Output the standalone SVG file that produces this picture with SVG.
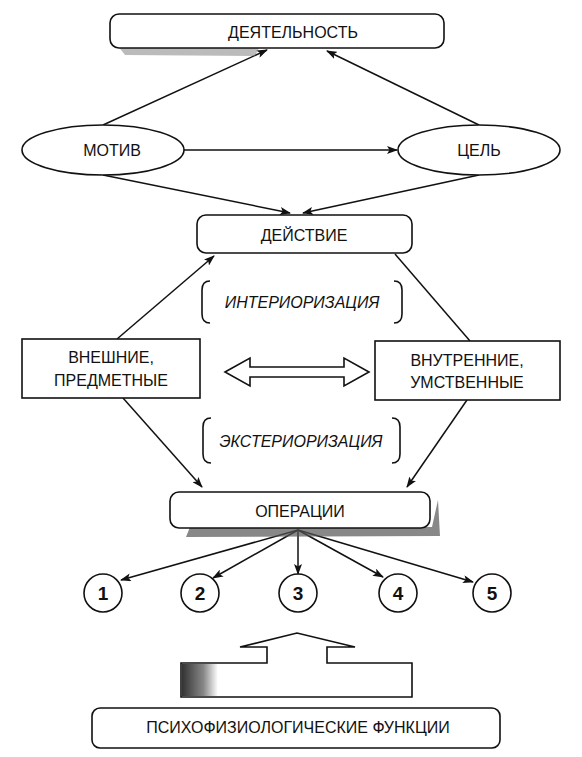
<svg xmlns="http://www.w3.org/2000/svg" width="582" height="757" viewBox="0 0 582 757">
<defs>
<marker id="ah" markerWidth="11" markerHeight="8" refX="10" refY="4" orient="auto" markerUnits="userSpaceOnUse">
<path d="M0,0 L11,4 L0,8 L2.5,4 Z" fill="#111"/>
</marker>
<linearGradient id="shade" x1="0" y1="0" x2="1" y2="0">
<stop offset="0" stop-color="#333"/>
<stop offset="0.6" stop-color="#888"/>
<stop offset="1" stop-color="#fff"/>
</linearGradient>
<style>
.box{fill:#fff;stroke:#111;stroke-width:1.6}
.t{font-family:"Liberation Sans",Arial,sans-serif;font-size:16px;fill:#111;text-anchor:middle}
.it{font-style:italic}
.num{font-size:19px;font-weight:bold}
.ln{stroke:#111;stroke-width:1.5;fill:none}
.arr{marker-end:url(#ah)}
.br{stroke:#111;stroke-width:1.6;fill:none}
.sh{fill:#777;opacity:0.5}
</style>
</defs>
<rect width="582" height="757" fill="#fff"/>

<g id="connectors">
<line class="ln arr" x1="103" y1="125" x2="267" y2="50"/>
<line class="ln arr" x1="479" y1="125" x2="327" y2="51"/>
<line class="ln arr" x1="184" y1="150" x2="397" y2="150"/>
<line class="ln arr" x1="103" y1="175" x2="290" y2="213"/>
<line class="ln arr" x1="479" y1="175" x2="303" y2="213"/>
<line class="ln arr" x1="117" y1="339" x2="214" y2="256"/>
<line class="ln" x1="395" y1="254" x2="470" y2="341"/>
<line class="ln arr" x1="123" y1="398" x2="202" y2="487"/>
<line class="ln arr" x1="467" y1="400" x2="407" y2="487"/>
<line class="ln arr" x1="298" y1="530" x2="121" y2="580"/>
<line class="ln arr" x1="298" y1="530" x2="213" y2="578"/>
<line class="ln arr" x1="298" y1="530" x2="298" y2="574"/>
<line class="ln arr" x1="298" y1="530" x2="383" y2="577"/>
<line class="ln arr" x1="298" y1="530" x2="473" y2="582"/>
<path class="box" d="M225,372 L250,358 L250,367 L344,367 L344,358 L369,372 L344,386 L344,377 L250,377 L250,386 Z"/>
</g>

<g id="activity">
<path class="sh" d="M118,46 L260,46 L255,56 L125,55 Z"/>
<rect class="box" x="110" y="14" width="334" height="34" rx="9" stroke-width="2"/>
<text class="t" x="293" y="38" font-size="19">ДЕЯТЕЛЬНОСТЬ</text>
</g>

<g id="motive">
<ellipse class="box" cx="103" cy="150" rx="81" ry="25"/>
<text class="t" x="112" y="156" font-size="17">МОТИВ</text>
</g>

<g id="goal">
<ellipse class="box" cx="479" cy="150" rx="81" ry="25"/>
<text class="t" x="479" y="156" font-size="17">ЦЕЛЬ</text>
</g>

<g id="action">
<rect class="box" x="197" y="215" width="215" height="38" rx="9"/>
<text class="t" x="304" y="241" font-size="18">ДЕЙСТВИЕ</text>
</g>

<g id="interiorization">
<path class="br" d="M210,281 Q202,281 202,290 L202,314 Q202,323 210,323"/>
<path class="br" d="M394,281 Q402,281 402,290 L402,314 Q402,323 394,323"/>
<text class="t it" x="302" y="308">ИНТЕРИОРИЗАЦИЯ</text>
</g>

<g id="external">
<rect class="box" x="22" y="339" width="178" height="59"/>
<text class="t" x="111" y="363">ВНЕШНИЕ,</text>
<text class="t" x="111" y="386">ПРЕДМЕТНЫЕ</text>
</g>

<g id="internal">
<rect class="box" x="375" y="341" width="185" height="59"/>
<text class="t" x="467" y="366">ВНУТРЕННИЕ,</text>
<text class="t" x="467" y="388">УМСТВЕННЫЕ</text>
</g>

<g id="exteriorization">
<path class="br" d="M211,418 Q203,418 203,427 L203,454 Q203,463 211,463"/>
<path class="br" d="M392,418 Q400,418 400,427 L400,454 Q400,463 392,463"/>
<text class="t it" x="301" y="447">ЭКСТЕРИОРИЗАЦИЯ</text>
</g>

<g id="operations">
<path d="M190,527 L432,527 L438,500 L440,536 L186,537 Z" fill="#555" opacity="0.7"/>
<rect class="box" x="170" y="492" width="260" height="36" rx="9"/>
<text class="t" x="300" y="517" font-size="18">ОПЕРАЦИИ</text>
</g>

<g id="n1"><circle class="box" cx="103" cy="593" r="19"/><text class="t num" x="103" y="600">1</text></g>
<g id="n2"><circle class="box" cx="200" cy="593" r="19"/><text class="t num" x="200" y="600">2</text></g>
<g id="n3"><circle class="box" cx="298" cy="593" r="19"/><text class="t num" x="298" y="600">3</text></g>
<g id="n4"><circle class="box" cx="398" cy="593" r="19"/><text class="t num" x="398" y="600">4</text></g>
<g id="n5"><circle class="box" cx="492" cy="593" r="19"/><text class="t num" x="492" y="600">5</text></g>

<g id="big-arrow">
<path class="box" d="M181,697 L181,663 L267,663 L267,647 L240,647 L297,633 L355,647 L327,647 L327,663 L412,663 L412,697 Z"/>
<rect x="182" y="664" width="36" height="32" fill="url(#shade)"/>
</g>

<g id="psychophysiological">
<rect class="box" x="92" y="708" width="408" height="40" rx="8"/>
<text class="t" x="298" y="733" font-size="14.5">ПСИХОФИЗИОЛОГИЧЕСКИЕ ФУНКЦИИ</text>
</g>
</svg>
